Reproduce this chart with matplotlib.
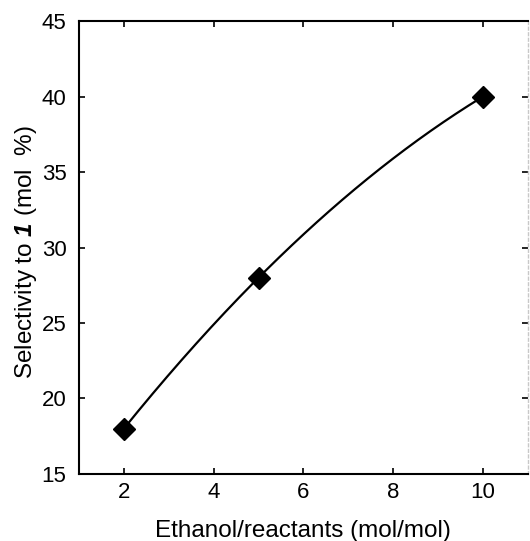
import numpy as np
import matplotlib
matplotlib.use("Agg")
import matplotlib.pyplot as plt

x_vals = [2, 5, 10]
y_vals = [18, 28, 40]
x_ticks = [2, 4, 6, 8, 10]
y_ticks = [15, 20, 25, 30, 35, 40, 45]

plt.rcParams['font.family'] = ['Liberation Sans', 'DejaVu Sans']
plt.rcParams['mathtext.fontset'] = 'custom'
plt.rcParams['mathtext.bf'] = 'Liberation Sans:italic:bold'
plt.rcParams['mathtext.rm'] = 'Liberation Sans'

fig = plt.figure(figsize=(5.30, 5.41), dpi=100)
ax = fig.add_axes([0.149, 0.124, 0.847, 0.837])

# smooth curve through the points (quadratic fit)
coef = np.polyfit(x_vals, y_vals, 2)
xs = np.linspace(min(x_vals), max(x_vals), 200)
ax.plot(xs, np.polyval(coef, xs), color='black', lw=1.6, zorder=2)
ax.plot(x_vals, y_vals, linestyle='none', marker='D', color='black',
        markersize=11, zorder=3)

ax.set_xlim(1, 11)
ax.set_ylim(15, 45)
ax.set_xticks(x_ticks)
ax.set_yticks(y_ticks)
ax.tick_params(direction='in', length=4, width=1.2, labelsize=16,
               top=True, right=True)
ax.tick_params(axis='x', pad=6)
ax.tick_params(axis='y', pad=9)

for s in ['left', 'bottom', 'top']:
    ax.spines[s].set_linewidth(1.5)
ax.spines['right'].set_color('#c8c8c8')
ax.spines['right'].set_linestyle((0, (2, 2)))
ax.spines['right'].set_linewidth(1.0)

ax.set_xlabel('Ethanol/reactants (mol/mol)', fontsize=17.5)
ax.xaxis.label.set_verticalalignment('baseline')
ax.xaxis.set_label_coords(0.5, -0.139)

ax.set_ylabel(r'Selectivity to $\mathbf{1}$ (mol  %)', fontsize=17.5)
ax.yaxis.label.set_verticalalignment('center')
ax.yaxis.set_label_coords(-0.118, 0.49)

fig.savefig('out.png', dpi=100)
